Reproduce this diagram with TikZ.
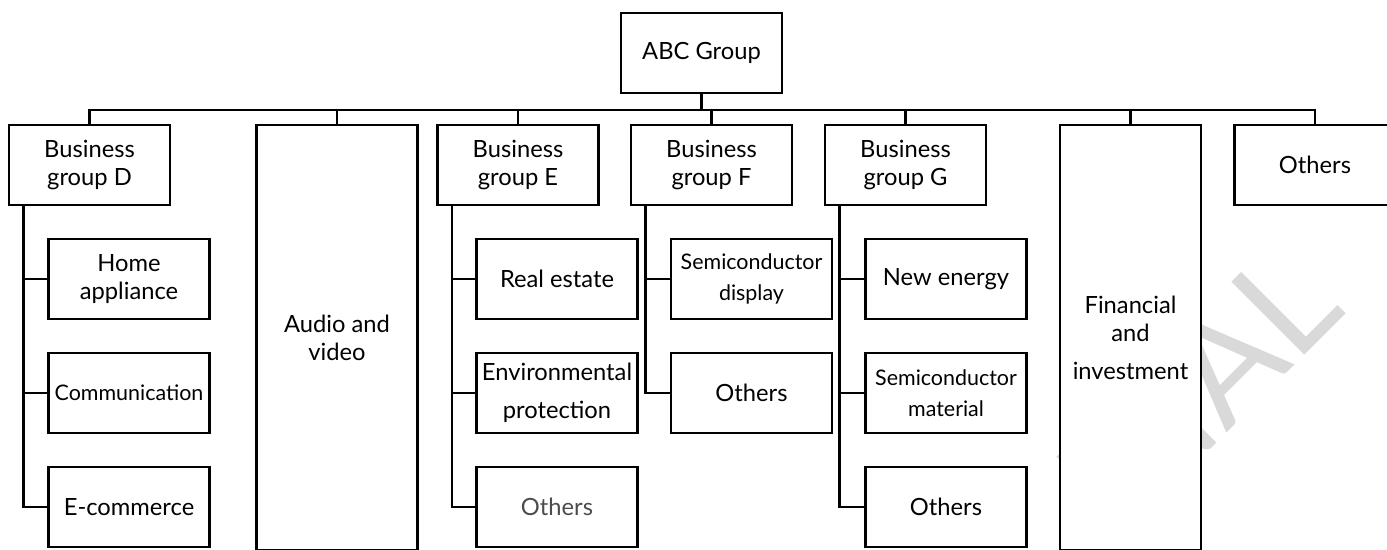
\documentclass[tikz,border=0pt]{standalone}
\usepackage{fontspec}
\setmainfont{Lato}
\usepackage{tikz}
\usetikzlibrary{positioning}
\usetikzlibrary{calc}

\newcommand{\boxfont}{\fontsize{13.5}{16}\selectfont}
\newcommand{\smallfont}{\fontsize{12.2}{18}\selectfont}

\tikzset{
  unit/.style={draw, line width=1.4pt, fill=white, minimum width=3.22cm, minimum height=1.6cm, inner sep=1pt, align=center, font=\boxfont},
  tall/.style={unit, minimum height=8.5cm},
  link/.style={line width=1.4pt}
}

\begin{document}
\begin{tikzpicture}[x=0.02cm, y=-0.02cm]
  \useasboundingbox (0,0) rectangle (1387,549);

  %watermark
  \node[anchor=base east, rotate=45, text=black!15, inner sep=0, font=\fontsize{82}{82}\selectfont] (mark) at (1348,312) {INAL};

  %head
  \node[unit] (ABC) at (701.5,53) {ABC Group};

  %first row
  \def\ry{165};
  \foreach \x/\name/\txt in {89.5/D/{Business\\group D}, 518/E/{Business\\group E}, 711.5/F/{Business\\group F}, 905.5/G/{Business\\group G}, 1315/O/Others}{
     \node[unit] (\name) at (\x,\ry) {\txt};
  }
  \node[tall] (AV) at (337,337.5) {Audio and\\video};
  \node[tall, minimum width=2.82cm] (FI) at (1130.5,337.5) {Financial\\and\\[5.5pt]investment};

  %second level
  \def\ra{279};
  \def\rb{393};
  \def\rc{507};

  \foreach \y/\name/\txt in {\ra/Dh/{Home\\appliance}, \rc/De/E-commerce}{
     \node[unit] (\name) at (129,\y) {\txt};
  }
  \node[unit, font=\fontsize{12.2}{15}\selectfont] (Dc) at (129,\rb) {Communication};

  \node[unit] (Er) at (557,\ra) {Real estate};
  \node[unit] (Ep) at (557,\rb) {Environmental\\[5.7pt]protection};
  \node[unit, text=black!70] (Eo) at (557,\rc) {Others};

  \node[unit, font=\smallfont] (Fs) at (751.5,\ra) {Semiconductor\\display};
  \node[unit] (Fo) at (751.5,\rb) {Others};

  \node[unit] (Gn) at (946,\ra) {New energy};
  \node[unit, font=\smallfont] (Gs) at (946,\rb) {Semiconductor\\material};
  \node[unit] (Go) at (946,\rc) {Others};

  %links
  \foreach \name in {D,AV,E,F,G,FI,O}{
     \draw[link] (ABC.south) -- ++(0,16) -| (\name.north);
  }
  \foreach \p/\name in {D/Dh,D/Dc,D/De,E/Er,E/Ep,E/Eo,F/Fs,F/Fo,G/Gn,G/Gs,G/Go}{
     \draw[link] ($(\p.south west)+(15.5,0)$) |- (\name.west);
  }

\end{tikzpicture}
\end{document}
